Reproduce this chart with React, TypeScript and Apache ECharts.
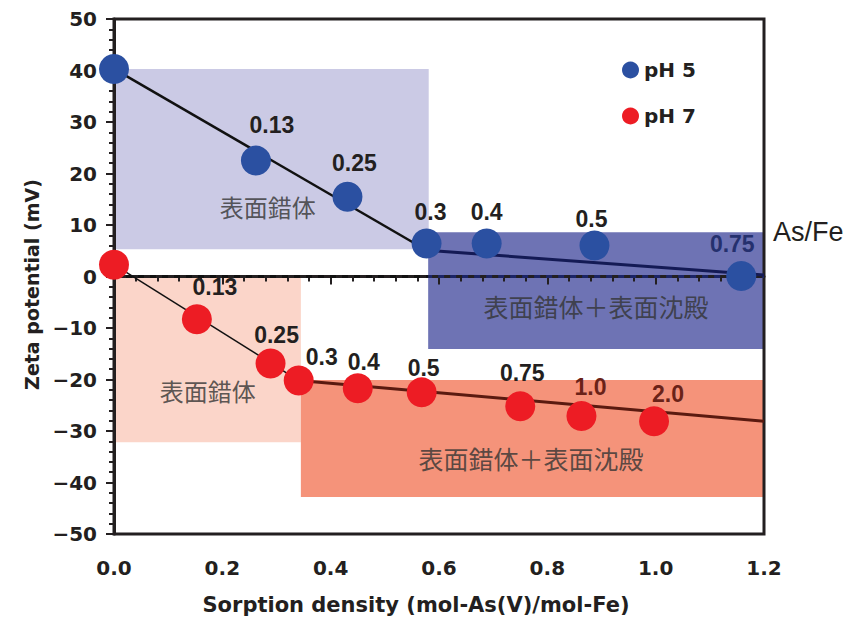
import React, { useEffect, useRef } from "react";
import * as echarts from "echarts";

// Zeta potential vs. sorption density of As(V) on ferrihydrite
const ph5X = [0, 0.262, 0.431, 0.577, 0.688, 0.887, 1.158];
const ph5Y = [40.3, 22.5, 15.5, 6.4, 6.4, 6.0, 0.1];
const ph5Ratio = ["", "0.13", "0.25", "0.3", "0.4", "0.5", "0.75"];

const ph7X = [0, 0.153, 0.289, 0.341, 0.45, 0.568, 0.75, 0.863, 0.997];
const ph7Y = [2.3, -8.3, -16.9, -20.2, -21.7, -22.5, -25.2, -27.1, -28.1];
const ph7Ratio = ["", "0.13", "0.25", "0.3", "0.4", "0.5", "0.75", "1.0", "2.0"];

// Trend lines (two regimes per pH)
const ph5TrendX = [0, 0.577, 1.2];
const ph5TrendY = [40.3, 5.1, 0.3];
const ph7TrendX = [0, 0.341, 1.2];
const ph7TrendY = [2.3, -20.2, -28.1];

// Mechanism zones: x range and y range
const zoneX0 = [0, 0.58, 0, 0.345];
const zoneX1 = [0.581, 1.2, 0.345, 1.2];
const zoneYLow = [5.3, -14.1, -32.2, -42.8];
const zoneYHigh = [40.3, 8.6, 0, -20.1];
const zoneColors = ["#cbcae5", "#6e73b4", "#fbd5c9", "#f5937a"];

// Zone captions, anchored in data units
const noteText = ["表面錯体", "表面錯体＋表面沈殿", "表面錯体", "表面錯体＋表面沈殿"];
const noteX = [0.284, 0.89, 0.173, 0.77];
const noteY = [13.6, -5.8, -22.1, -35.3];

const xTicks = { min: 0, max: 1.2, interval: 0.2 };
const yTicks = { min: -50, max: 50, interval: 10 };

// Label placement relative to each marker centre (px)
const ph5LabelOffset = [[0, 0], [16, -36], [7, -34], [4, -32], [0, -32], [-3, -27], [-9, -32]];
const ph7LabelOffset = [[0, 0], [18, -32], [6, -29], [23, -24], [6, -26], [2, -24], [2, -33], [9, -29], [14, -27]];

const INK = "#231f20";
const BLUE = "#2b50a1";
const RED = "#ed1c24";
const LATIN = "'Liberation Sans', Arial, sans-serif";
const GOTHIC = "'DejaVu Sans', sans-serif";
const CJK = "'Noto Sans CJK JP', 'Noto Sans', sans-serif";

function pointData(xs: number[], ys: number[], ratios: string[], offsets: number[][], colorFor: (i: number) => string) {
  return xs.map((x, i) => ({
    value: [x, ys[i]],
    label: {
      show: ratios[i] !== "",
      formatter: ratios[i],
      position: "inside",
      offset: offsets[i],
      color: colorFor(i),
      fontFamily: LATIN,
      fontWeight: "bold",
      fontSize: 23,
    },
  }));
}

export default function App() {
  const ref = useRef<HTMLDivElement>(null);

  useEffect(() => {
    if (!ref.current) return;
    const chart = echarts.init(ref.current, undefined, { renderer: "svg" });

    const zones = zoneX0.map((x0, i) => [x0, zoneYLow[i], zoneX1[i], zoneYHigh[i], i]);
    const notes = noteX.map((x, i) => ({
      value: [x, noteY[i]],
      name: noteText[i],
      label: { fontSize: noteText[i].length > 4 ? 25 : 24 },
    }));
    const pair = (xs: number[], ys: number[], a: number, b: number) => [
      [xs[a], ys[a]],
      [xs[b], ys[b]],
    ];

    chart.setOption({
      animation: false,
      backgroundColor: "#ffffff",
      grid: {
        left: 114,
        right: 104,
        top: 19,
        bottom: 85,
        show: true,
        borderColor: INK,
        borderWidth: 3,
        z: 3,
      },
      legend: {
        orient: "vertical",
        left: 622,
        top: 60,
        padding: 0,
        icon: "circle",
        itemWidth: 17,
        itemHeight: 17,
        itemGap: 26,
        data: ["pH 5", "pH 7"],
        textStyle: { fontFamily: GOTHIC, fontWeight: "bold", fontSize: 20, lineHeight: 17, color: INK },
      },
      xAxis: {
        type: "value",
        min: xTicks.min,
        max: xTicks.max,
        interval: xTicks.interval,
        z: 3,
        name: "Sorption density (mol-As(V)/mol-Fe)",
        nameLocation: "middle",
        nameGap: 60,
        nameTextStyle: {
          fontFamily: GOTHIC,
          fontWeight: "bold",
          fontSize: 21,
          color: INK,
          padding: [0, 46, 0, 0],
        },
        axisLine: { lineStyle: { color: INK, width: 3 } },
        axisTick: { inside: false, length: 8, lineStyle: { color: INK, width: 2 } },
        minorTick: { show: true, splitNumber: 5, length: 5, lineStyle: { color: INK, width: 2 } },
        splitLine: { show: false },
        axisLabel: {
          margin: 24,
          fontFamily: GOTHIC,
          fontWeight: "bold",
          fontSize: 20,
          color: INK,
          formatter: (v: number) => v.toFixed(1),
        },
      },
      yAxis: {
        type: "value",
        min: yTicks.min,
        max: yTicks.max,
        interval: yTicks.interval,
        z: 3,
        name: "Zeta potential (mV)",
        nameLocation: "middle",
        nameGap: 72,
        nameTextStyle: {
          fontFamily: GOTHIC,
          fontWeight: "bold",
          fontSize: 19,
          color: INK,
          padding: [0, 16, 0, 0],
        },
        axisLine: { lineStyle: { color: INK, width: 3 } },
        axisTick: { inside: false, length: 8, lineStyle: { color: INK, width: 2 } },
        minorTick: { show: true, splitNumber: 5, length: 5, lineStyle: { color: INK, width: 2 } },
        splitLine: { show: false },
        axisLabel: {
          margin: 17,
          fontFamily: GOTHIC,
          fontWeight: "bold",
          fontSize: 20,
          color: INK,
          formatter: (v: number) => (v < 0 ? "\u2212" + Math.abs(v) : String(v)),
        },
      },
      graphic: [
        {
          type: "text",
          left: 773,
          top: 218,
          style: { text: "As/Fe", font: `normal 27px ${LATIN}`, fill: INK },
        },
      ],
      series: [
        {
          type: "custom",
          name: "zones",
          z: 1,
          silent: true,
          data: zones,
          encode: { x: [0, 2], y: [1, 3] },
          renderItem: (_p: any, api: any) => {
            const tl = api.coord([api.value(0), api.value(3)]);
            const br = api.coord([api.value(2), api.value(1)]);
            return {
              type: "rect",
              shape: { x: tl[0], y: tl[1], width: br[0] - tl[0], height: br[1] - tl[1] },
              style: { fill: zoneColors[api.value(4)] },
            };
          },
        },
        {
          type: "scatter",
          name: "notes",
          z: 2,
          silent: true,
          symbolSize: 0,
          itemStyle: { color: "transparent" },
          data: notes,
          label: {
            show: true,
            position: "inside",
            formatter: (p: any) => p.name,
            fontFamily: CJK,
            fontSize: 24,
            color: "#333333",
          },
        },
        {
          type: "line",
          name: "zero-left",
          z: 3,
          symbol: "none",
          silent: true,
          data: [[xTicks.min, 0], [zoneX0[1], 0]],
          lineStyle: { color: "#111111", width: 3, type: [6, 6] },
        },
        {
          type: "line",
          name: "zero-right",
          z: 3,
          symbol: "none",
          silent: true,
          data: [[zoneX0[1], 0], [xTicks.max, 0]],
          lineStyle: { color: "#1b2466", width: 3, type: [6, 6], dashOffset: 2 },
        },
        {
          type: "line",
          name: "ph5-fit-1",
          z: 3,
          symbol: "none",
          silent: true,
          data: pair(ph5TrendX, ph5TrendY, 0, 1),
          lineStyle: { color: "#111111", width: 2.5 },
        },
        {
          type: "line",
          name: "ph5-fit-2",
          z: 3,
          symbol: "none",
          silent: true,
          data: pair(ph5TrendX, ph5TrendY, 1, 2),
          lineStyle: { color: "#141a55", width: 3 },
        },
        {
          type: "line",
          name: "ph7-fit-1",
          z: 3,
          symbol: "none",
          silent: true,
          data: pair(ph7TrendX, ph7TrendY, 0, 1),
          lineStyle: { color: "#111111", width: 1.5 },
        },
        {
          type: "line",
          name: "ph7-fit-2",
          z: 3,
          symbol: "none",
          silent: true,
          data: pair(ph7TrendX, ph7TrendY, 1, 2),
          lineStyle: { color: "#5a1a10", width: 3 },
        },
        {
          type: "scatter",
          name: "pH 5",
          z: 5,
          symbolSize: 30,
          itemStyle: { color: BLUE, opacity: 1 },
          data: pointData(ph5X, ph5Y, ph5Ratio, ph5LabelOffset, (i) => (i === 6 ? "#25306e" : INK)),
        },
        {
          type: "scatter",
          name: "pH 7",
          z: 5,
          symbolSize: 30,
          itemStyle: { color: RED, opacity: 1 },
          data: pointData(ph7X, ph7Y, ph7Ratio, ph7LabelOffset, (i) => (i >= 7 ? "#6a2218" : INK)),
        },
      ],
    });

    return () => chart.dispose();
  }, []);

  return (
    <div
      ref={ref}
      style={{ position: "fixed", left: 0, top: 0, width: 868, height: 620, background: "#fff" }}
    />
  );
}
